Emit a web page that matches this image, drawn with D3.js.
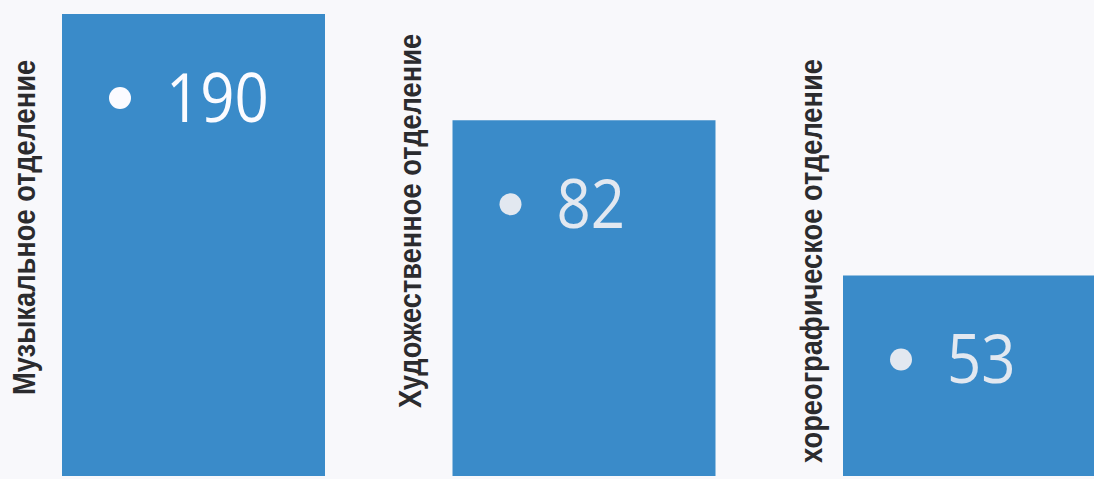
<!DOCTYPE html>
<html>
<head>
<meta charset="utf-8">
<script src="https://cdn.jsdelivr.net/npm/d3@7"></script>
<style>
  html, body { margin: 0; padding: 0; background: #f8f8fb; }
  svg { display: block; }
</style>
</head>
<body>
<div id="chart"></div>
<script>
// departments and pupil counts
var departments = ["Музыкальное отделение",
                   "Художественное отделение",
                   "хореографическое отделение"];
var pupils = [190, 82, 53];
// bar heights as drawn on the slide (percent of the tallest bar)
var barLevels = [100, 77, 43.4];

var w = 1094, h = 479;

var svg = d3.select("#chart")
  .append("svg")
  .attr("width", w)
  .attr("height", h)
  .style("background-color", "#f8f8fb");

var x = d3.scaleBand()
  .domain(departments)
  .range([62, 1106])
  .paddingInner(0.3265)
  .paddingOuter(0);

var y = d3.scaleLinear()
  .domain([0, 100])
  .range([476, 14]);

// bars
svg.append("g")
  .selectAll("rect")
  .data(departments)
  .enter()
  .append("rect")
  .attr("x", function (d) { return x(d); })
  .attr("y", function (d, i) { return y(barLevels[i]); })
  .attr("width", x.bandwidth())
  .attr("height", function (d, i) { return y(0) - y(barLevels[i]); })
  .style("fill", "#3a8bc9");

// value labels: bullet + number
var valueColors = ["#fbfbff", "#e2e8f0", "#e2e8f0"];
var vals = svg.append("g")
  .selectAll("g")
  .data(departments)
  .enter()
  .append("g")
  .attr("transform", function (d, i) {
    return "translate(" + x(d) + "," + y(barLevels[i]) + ")";
  });

vals.append("circle")
  .attr("cx", 58)
  .attr("cy", 84)
  .attr("r", 11)
  .style("fill", function (d, i) { return valueColors[i]; });

vals.append("text")
  .attr("transform", "translate(104,108) scale(1,1.14)")
  .style("font-family", "'Open Sans', sans-serif")
  .style("font-size", "60px")
  .style("fill", function (d, i) { return valueColors[i]; })
  .text(function (d, i) { return pupils[i]; });

// rotated category labels, placed by hand like the slide text boxes
var labelPos = [{dx: -27, y: 395}, {dx: -31, y: 408}, {dx: -21, y: 463}];
svg.append("g")
  .selectAll("text")
  .data(departments)
  .enter()
  .append("text")
  .attr("transform", function (d, i) {
    return "translate(" + (x(d) + labelPos[i].dx) + "," + labelPos[i].y + ") rotate(-90) scale(0.88,1.03)";
  })
  .style("font-family", "'Liberation Sans', Arial, sans-serif")
  .style("font-weight", "bold")
  .style("font-size", "31px")
  .style("fill", "#2b2b2e")
  .text(function (d) { return d; });
</script>
</body>
</html>
